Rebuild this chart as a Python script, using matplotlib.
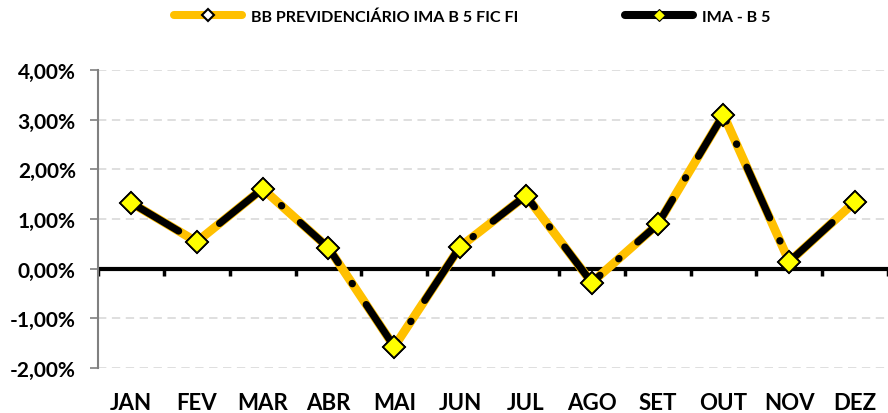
import numpy as np
import matplotlib
matplotlib.use("Agg")
import matplotlib.pyplot as plt
from matplotlib.lines import Line2D
from matplotlib.ticker import FuncFormatter

### data (monthly return, %)
months = ["JAN", "FEV", "MAR", "ABR", "MAI", "JUN", "JUL", "AGO", "SET", "OUT", "NOV", "DEZ"]
bb_prev = [1.33, 0.54, 1.61, 0.42, -1.57, 0.44, 1.47, -0.28, 0.89, 3.10, 0.14, 1.35]
ima_b5 = [1.33, 0.54, 1.61, 0.42, -1.57, 0.44, 1.47, -0.28, 0.89, 3.10, 0.14, 1.35]
yticks = [-2, -1, 0, 1, 2, 3, 4]
labels = ["BB PREVIDENCIÁRIO IMA B 5 FIC FI", "IMA - B 5"]

plt.rcParams['font.family'] = ['Lato', 'DejaVu Sans']
plt.rcParams['font.weight'] = 'bold'
plt.rcParams['lines.scale_dashes'] = False

orange = "#FFC000"
yellow = "#FFFF00"

fig = plt.figure(figsize=(8.88, 4.14), dpi=100)
ax = fig.add_axes([98/888, 1-369/414, 790/888, (369-71)/414])

x = np.arange(len(months))

# zero line + boundary ticks
ax.axhline(0, color="black", lw=3.0, zorder=2)
ax.vlines(np.arange(len(months)+1)-0.5, -0.14, 0, color="black", lw=2.5, zorder=2)

ax.plot(x, bb_prev, color=orange, lw=6.3, solid_capstyle="round", solid_joinstyle="round",
        marker="D", ms=11, mfc="white", mec="black", mew=1.3, zorder=3)
ax.plot(x, ima_b5, color="black", lw=5.2, linestyle=(0, (40, 18, 0.3, 18)),
        dash_capstyle="round", marker="D", ms=11, mfc=yellow, mec="black", mew=1.3, zorder=4)

ax.set_xlim(-0.5, len(months)-0.5)
ax.set_ylim(-2, 4)
ax.set_xticks(x)
ax.set_xticklabels(months, fontsize=16, fontweight="bold")
ax.tick_params(axis="x", length=0, pad=17)
ax.set_yticks(yticks)
ax.yaxis.set_major_formatter(FuncFormatter(lambda v, p: ("%.2f%%" % v).replace(".", ",")))
ax.tick_params(axis="y", length=6, width=1.2, color="#808080", labelsize=15, pad=10)
for t in ax.get_yticklabels():
    t.set_fontweight("bold")

ax.yaxis.grid(True, color="#D9D9D9", lw=1.2, linestyle=(0, (6, 4)))
ax.set_axisbelow(True)
for s in ["top", "right", "bottom"]:
    ax.spines[s].set_visible(False)
ax.spines["left"].set_color("#808080")
ax.spines["left"].set_linewidth(1.5)

# legend
h1 = Line2D([], [], color=orange, lw=5.8, solid_capstyle="round",
            marker="D", ms=6, mfc="white", mec="black", mew=1.5)
h2 = Line2D([], [], color="black", lw=5.8, solid_capstyle="round",
            marker="D", ms=6, mfc=yellow, mec="black", mew=0.8)
fig.legend([h1, h2], labels, loc="center", bbox_to_anchor=(0.532, 0.957), ncol=2,
           frameon=False, prop={"weight": "bold", "size": 11.6}, handlelength=4.2,
           handletextpad=0.6, columnspacing=6.6)

plt.savefig("out.png", dpi=100)
